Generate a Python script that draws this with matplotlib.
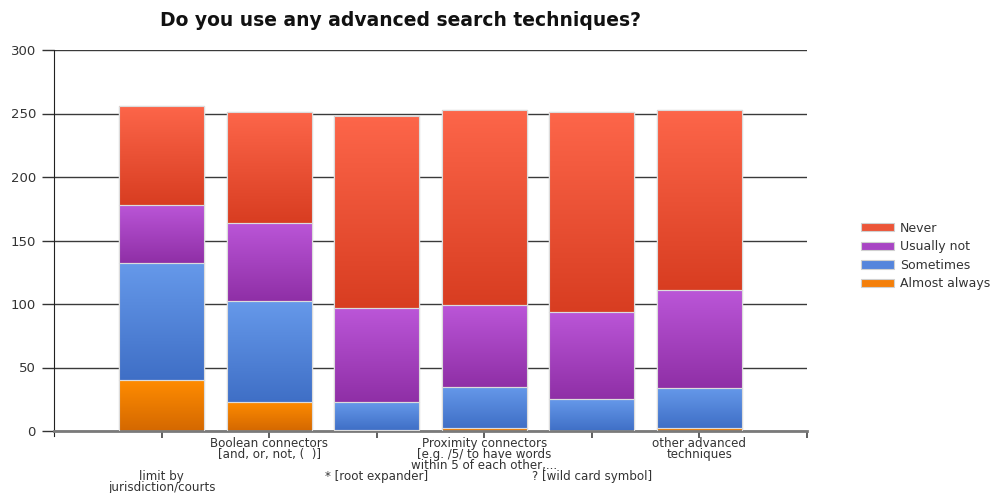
import numpy as np
import matplotlib
matplotlib.use('Agg')
import matplotlib.pyplot as plt
from matplotlib.colors import LinearSegmentedColormap
from matplotlib.patches import Patch

# survey answers per technique (stacked bottom -> top)
categories = [
    'limit by\njurisdiction/courts',
    'Boolean connectors\n[and, or, not, (  )]',
    '* [root expander]',
    'Proximity connectors\n[e.g. /5/ to have words\nwithin 5 of each other,...',
    '? [wild card symbol]',
    'other advanced\ntechniques',
]
almost_always = [40, 23, 1, 2, 0, 2]
sometimes = [92, 79, 22, 33, 25, 32]
usually_not = [46, 62, 74, 64, 69, 77]
never = [78, 87, 151, 154, 157, 142]

series_names = ['Almost always', 'Sometimes', 'Usually not', 'Never']
series_values = [almost_always, sometimes, usually_not, never]
# (top colour, bottom colour) of each gradient fill
series_colors = [
    ('#ff8c00', '#d46800'),
    ('#6699ea', '#3f6fc6'),
    ('#bb56d8', '#8f2fa6'),
    ('#fd664a', '#d83d21'),
]
legend_colors = ['#f47f0a', '#5585dc', '#a845c4', '#ec5538']

yticks = [0, 50, 100, 150, 200, 250, 300]

text_col = '#333333'


def gradient_bars(ax, bars, top_col, bottom_col):
    cmap = LinearSegmentedColormap.from_list('g', [bottom_col, top_col])
    grad = np.linspace(0, 1, 256).reshape(-1, 1)
    for bar in bars:
        x0, y0 = bar.get_x(), bar.get_y()
        w, h = bar.get_width(), bar.get_height()
        if h <= 0:
            continue
        im = ax.imshow(grad, cmap=cmap, origin='lower', aspect='auto',
                       extent=(x0, x0 + w, y0, y0 + h), zorder=2.5,
                       interpolation='bilinear')
        im.set_clip_path(bar)


fig = plt.figure(figsize=(9.94, 4.93), dpi=100)
ax = fig.add_axes([54 / 994, 62 / 493, 753 / 994, 381 / 493])

x = np.arange(1, len(categories) + 1)
bottom = np.zeros(len(categories))
for vals, (c_top, c_bot) in zip(series_values, series_colors):
    bars = ax.bar(x, vals, width=0.79, bottom=bottom, color=c_bot,
                  edgecolor='#dcdcdc', linewidth=1, zorder=2)
    gradient_bars(ax, bars, c_top, c_bot)
    # redraw outline above the gradient
    ax.bar(x, vals, width=0.79, bottom=bottom, fill=False,
           edgecolor='#dcdcdc', linewidth=0.8, zorder=3)
    bottom += np.array(vals)

ax.set_xlim(0, 7)
ax.set_ylim(0, 300)
ax.set_yticks(yticks)
ax.set_yticklabels([str(t) for t in yticks], fontsize=9.5, color=text_col)
ax.yaxis.grid(True, color='#3a3a3a', linewidth=1)
ax.set_axisbelow(True)

ax.set_xticks(list(x) + [7])
ax.set_xticklabels([])
ax.tick_params(axis='x', length=5, width=1.2, color='#444444', direction='out')
ax.tick_params(axis='y', length=9, width=1, color='#333333', pad=4)

for side in ['top', 'right']:
    ax.spines[side].set_visible(False)
ax.spines['left'].set_color('#222222')
ax.spines['left'].set_bounds(-4, 300)
ax.spines['bottom'].set_color('#7a7a7a')
ax.spines['bottom'].set_linewidth(2)

# staggered category labels
for i, label in enumerate(categories):
    y = -0.015 if i % 2 == 1 else -0.102
    ax.text(x[i], y, label, transform=ax.get_xaxis_transform(), ha='center',
            va='top', fontsize=8.6, color=text_col, linespacing=0.82)

fig.text(400 / 994, 1 - 20 / 493, 'Do you use any advanced search techniques?',
         ha='center', va='center', fontsize=13.5, fontweight='bold', color='#111111')

handles = [Patch(facecolor=c, edgecolor='#d0d0d0', linewidth=0.8)
           for c in legend_colors[::-1]]
fig.legend(handles, series_names[::-1], loc='center left',
           bbox_to_anchor=(850 / 994, 1 - 256 / 493), frameon=False,
           fontsize=9, handlelength=2.6, handleheight=0.65, labelspacing=0.45,
           handletextpad=0.5, labelcolor=text_col)

fig.savefig('out.png', dpi=100)
